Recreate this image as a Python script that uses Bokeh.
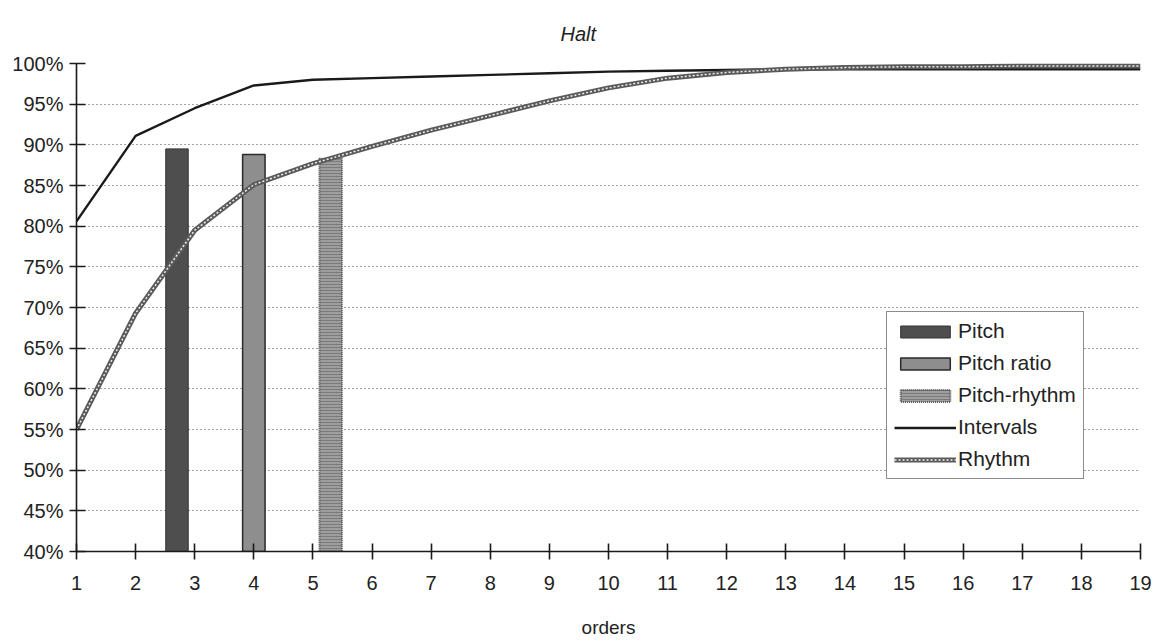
from bokeh.plotting import figure
from bokeh.models import Range1d, FixedTicker, PrintfTickFormatter, Legend, LegendItem
from bokeh.embed import file_html
from bokeh.resources import INLINE

# ---- data ----
orders = list(range(1, 20))
intervals = [80.6, 91.1, 94.5, 97.3, 98.0, 98.2, 98.4, 98.6, 98.8, 99.0,
             99.1, 99.2, 99.3, 99.3, 99.3, 99.3, 99.3, 99.3, 99.3]
rhythm = [55.0, 69.3, 79.5, 85.1, 87.7, 89.8, 91.8, 93.6, 95.4, 97.0,
          98.2, 98.9, 99.3, 99.5, 99.6, 99.6, 99.7, 99.7, 99.7]
bar_names = ["Pitch", "Pitch ratio", "Pitch-rhythm"]
bar_pos = [2.7, 4.0, 5.3]
bar_vals = [89.5, 88.8, 88.3]
y_ticks = list(range(40, 101, 5))

FONT = "Liberation Sans"

p = figure(width=1155, height=640, output_backend="svg", toolbar_location=None,
           x_range=Range1d(1, 19), y_range=Range1d(40, 100),
           min_border_left=76, min_border_right=15, min_border_top=63, min_border_bottom=89)
p.outline_line_color = None
p.background_fill_color = "white"

# title
p.title.text = "Halt"
p.title.text_font = FONT
p.title.text_font_style = "italic"
p.title.text_font_size = "20px"
p.title.text_color = "#222222"
p.title.align = "left"
p.title.offset = 484
p.title.standoff = 38

# axes
p.xaxis.ticker = FixedTicker(ticks=orders)
p.yaxis.ticker = FixedTicker(ticks=y_ticks)
p.yaxis.formatter = PrintfTickFormatter(format="%d%%")
for ax in (p.xaxis[0], p.yaxis[0]):
    ax.axis_line_color = "#1a1a1a"
    ax.axis_line_width = 1.6
    ax.major_tick_line_color = "#1a1a1a"
    ax.major_tick_line_width = 1.6
    ax.minor_tick_line_color = None
    ax.major_label_text_font = FONT
    ax.major_label_text_font_size = "20px"
    ax.major_label_text_color = "#222222"
p.xaxis.major_tick_in = 8
p.xaxis.major_tick_out = 8
p.xaxis.major_label_standoff = 16
p.yaxis.major_tick_in = 9
p.yaxis.major_tick_out = 7
p.yaxis.major_label_standoff = 6
p.xaxis.axis_label = "orders"
p.xaxis.axis_label_text_font = FONT
p.xaxis.axis_label_text_font_size = "19px"
p.xaxis.axis_label_text_font_style = "normal"
p.xaxis.axis_label_text_color = "#222222"
p.xaxis.axis_label_standoff = 24

# grid
p.xgrid.grid_line_color = None
p.ygrid.grid_line_color = "#444444"
p.ygrid.grid_line_dash = "1 3"
p.ygrid.grid_line_width = 1.2

# bars
r_pitch = p.vbar(x=[bar_pos[0]], top=[bar_vals[0]], bottom=40, width=0.38,
                 fill_color="#4e4e4e", line_color="#333333", line_width=1)
r_ratio = p.vbar(x=[bar_pos[1]], top=[bar_vals[1]], bottom=40, width=0.38,
                 fill_color="#8e8e8e", line_color="#2a2a2a", line_width=1.5)
r_prh = p.vbar(x=[bar_pos[2]], top=[bar_vals[2]], bottom=40, width=0.38,
               fill_color="#9e9e9e", line_color="#555555", line_width=2, line_dash="1 1",
               hatch_pattern="horizontal_line", hatch_color="#7a7a7a", hatch_scale=3, hatch_weight=1)

# lines
r_int = p.line(orders, intervals, line_color="#1a1a1a", line_width=2.4)
r_rh1 = p.line(orders, rhythm, line_color="#5a5a5a", line_width=5)
r_rh2 = p.line(orders, rhythm, line_color="#eeeeee", line_width=1.5, line_dash="2 2")

legend = Legend(items=[
    LegendItem(label=bar_names[0], renderers=[r_pitch]),
    LegendItem(label=bar_names[1], renderers=[r_ratio]),
    LegendItem(label=bar_names[2], renderers=[r_prh]),
    LegendItem(label="Intervals", renderers=[r_int]),
    LegendItem(label="Rhythm", renderers=[r_rh1, r_rh2]),
], location=(810, 72))
legend.border_line_color = "#1a1a1a"
legend.border_line_width = 1.5
legend.background_fill_color = "white"
legend.background_fill_alpha = 1
legend.label_text_font = FONT
legend.label_text_font_size = "21px"
legend.label_text_color = "#222222"
legend.glyph_width = 62
legend.glyph_height = 15
legend.label_height = 22
legend.label_standoff = 2
legend.spacing = 8
legend.padding = 7
legend.margin = 0
p.add_layout(legend, "center")

open("out.html", "w").write(file_html(p, INLINE))
